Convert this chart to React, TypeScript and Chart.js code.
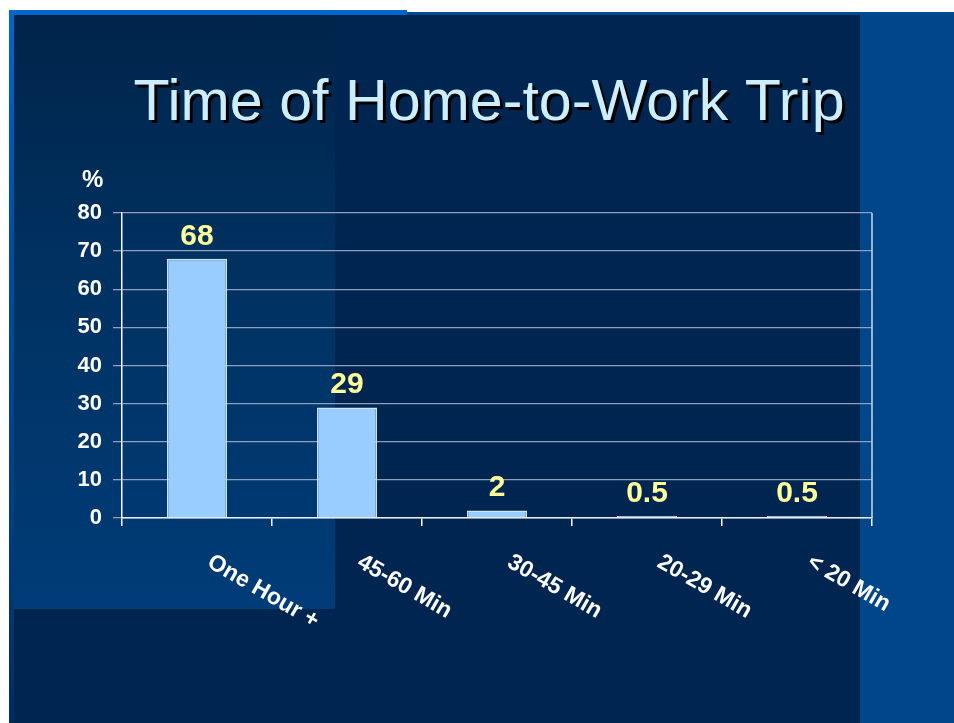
import React, { useEffect, useRef } from "react";
import { Chart, registerables } from "chart.js";

Chart.register(...registerables);

const categories = ["One Hour +", "45-60 Min", "30-45 Min", "20-29 Min", "< 20 Min"];
const values = [68, 29, 2, 0.5, 0.5];
const valueLabels = ["68", "29", "2", "0.5", "0.5"];
const yMin = 0;
const yMax = 80;
const yStep = 10;
const titleText = "Time of Home-to-Work Trip";
const unitText = "%";

const FONT = '"Liberation Sans", Arial, sans-serif';

const decorPlugin = {
  id: "decor",
  afterDraw(chart: any) {
    const ctx = chart.ctx;
    const area = chart.chartArea;
    const xs = chart.scales.x;
    ctx.save();
    // title with drop shadow
    ctx.font = `58px ${FONT}`;
    ctx.textAlign = "center";
    ctx.textBaseline = "alphabetic";
    ctx.shadowColor = "#000000";
    ctx.shadowOffsetX = 3;
    ctx.shadowOffsetY = 3;
    ctx.shadowBlur = 0;
    ctx.fillStyle = "#cceeff";
    ctx.translate(489, 120);
    ctx.scale(1.02, 1);
    ctx.fillText(titleText, 0, 0);
    ctx.restore();

    ctx.save();
    // unit label
    ctx.font = `bold 24px ${FONT}`;
    ctx.fillStyle = "#ffffff";
    ctx.textAlign = "left";
    ctx.textBaseline = "alphabetic";
    ctx.fillText(unitText, 82, 187);

    // right border of plot
    ctx.strokeStyle = "#d0d8e8";
    ctx.lineWidth = 1.5;
    ctx.beginPath();
    ctx.moveTo(area.right, area.top);
    ctx.lineTo(area.right, area.bottom);
    ctx.stroke();

    // value labels
    const meta = chart.getDatasetMeta(0);
    ctx.font = `bold 30px ${FONT}`;
    ctx.fillStyle = "#ffff99";
    ctx.textAlign = "center";
    meta.data.forEach((bar: any, i: number) => {
      ctx.fillText(valueLabels[i], bar.x, bar.y - 14);
    });

    // rotated category labels
    ctx.font = `bold 23px ${FONT}`;
    ctx.fillStyle = "#ffffff";
    ctx.textAlign = "left";
    categories.forEach((c, i) => {
      const x = xs.getPixelForValue(i) + 9;
      ctx.save();
      ctx.translate(x, 566);
      ctx.rotate((30 * Math.PI) / 180);
      ctx.fillText(c, 0, 0);
      ctx.restore();
    });
    ctx.restore();
  },
};

export default function App() {
  const ref = useRef<HTMLCanvasElement>(null);
  useEffect(() => {
    if (!ref.current) return;
    const chart = new Chart(ref.current, {
      type: "bar",
      data: {
        labels: categories,
        datasets: [
          {
            data: values,
            backgroundColor: "#99ccff",
            borderColor: "#cce6ff",
            borderWidth: 1.5,
            barPercentage: 0.4,
            categoryPercentage: 1,
          },
        ],
      },
      options: {
        animation: false,
        responsive: false,
        maintainAspectRatio: false,
        layout: { padding: { left: 0, right: 82, top: 213, bottom: 0 } },
        plugins: {
          legend: { display: false },
          title: { display: false },
          tooltip: { enabled: false },
        },
        scales: {
          x: {
            afterFit: (s: any) => {
              s.height = 205;
            },
            ticks: { display: false },
            grid: {
              offset: true,
              drawOnChartArea: false,
              tickLength: 8,
              color: "#ffffff",
              lineWidth: 1.5,
            },
            border: { color: "#e8eef8", width: 1.5 },
          },
          y: {
            min: yMin,
            max: yMax,
            afterFit: (s: any) => {
              s.width = 122;
            },
            ticks: {
              stepSize: yStep,
              color: "#ffffff",
              padding: 11,
              font: { family: FONT, size: 22, weight: "bold" },
            },
            grid: {
              color: "#8f9fbf",
              lineWidth: 1.3,
              tickLength: 9,
            },
            border: { color: "#ffffff", width: 1.5 },
          },
        },
      },
      plugins: [decorPlugin],
    });
    return () => chart.destroy();
  }, []);

  return (
    <div
      style={{
        position: "fixed",
        left: 0,
        top: 0,
        width: 954,
        height: 723,
        background: "#ffffff",
        overflow: "hidden",
      }}
    >
      {/* main dark panel */}
      <div style={{ position: "absolute", left: 9, top: 12, width: 945, height: 711, background: "#002550" }} />
      {/* lighter top-left block */}
      <div
        style={{
          position: "absolute",
          left: 14,
          top: 15,
          width: 321,
          height: 594,
          background: "linear-gradient(to bottom, #00244a 0%, #003262 45%, #003c78 100%)",
        }}
      />
      {/* right strip */}
      <div style={{ position: "absolute", left: 860, top: 12, width: 94, height: 711, background: "#00468a" }} />
      {/* top bright line */}
      <div style={{ position: "absolute", left: 9, top: 10, width: 398, height: 5, background: "#0066cc" }} />
      <div style={{ position: "absolute", left: 407, top: 12, width: 547, height: 3, background: "#004a92" }} />
      {/* left bright strip */}
      <div
        style={{
          position: "absolute",
          left: 9,
          top: 10,
          width: 5,
          height: 713,
          background: "linear-gradient(to bottom, #0066cc 0%, #0050a0 30%, #003a75 80%, #002c5a 100%)",
        }}
      />
      <canvas
        ref={ref}
        width={954}
        height={723}
        style={{ position: "absolute", left: 0, top: 0, width: 954, height: 723 }}
      />
    </div>
  );
}
